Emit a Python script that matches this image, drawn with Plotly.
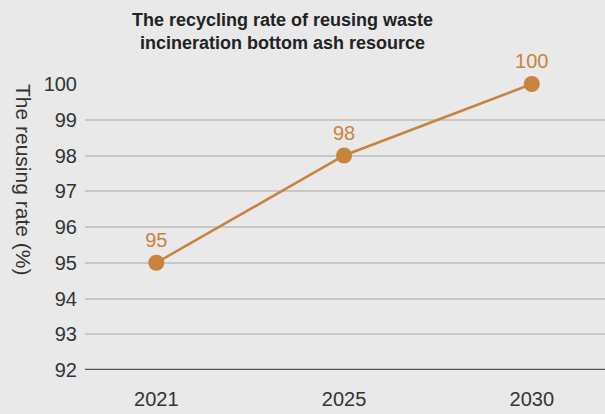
import plotly.graph_objects as go

years = ["2021", "2025", "2030"]
rates = [95, 98, 100]
y_ticks = [92, 93, 94, 95, 96, 97, 98, 99, 100]

orange = "#c8843c"
font_family = "Liberation Sans, Arial, sans-serif"

fig = go.Figure()
fig.add_trace(go.Scatter(
    x=years, y=rates, mode="lines+markers+text",
    line=dict(color=orange, width=2.5),
    marker=dict(color=orange, size=16),
    text=[str(v) for v in rates], textposition="top center",
    textfont=dict(color=orange, size=20, family=font_family),
    cliponaxis=False, hoverinfo="skip",
))

fig.update_layout(
    width=605, height=414,
    paper_bgcolor="#e9e9e9", plot_bgcolor="#e9e9e9",
    margin=dict(l=85, r=0, t=84, b=44),
    showlegend=False,
    font=dict(family=font_family, color="#333333", size=20),
    xaxis=dict(
        type="category", range=[-0.38, 2.39],
        showgrid=False, zeroline=False, showline=False,
        ticks="", ticklabelstandoff=15,
        tickfont=dict(size=20, color="#333333"),
    ),
    yaxis=dict(
        range=[92, 100], tickvals=y_ticks, ticktext=[str(v) for v in y_ticks],
        showgrid=True, gridcolor="#c8c8c8", gridwidth=1.5,
        zeroline=False, showline=False, ticks="", ticklabelstandoff=7,
        tickfont=dict(size=20, color="#333333"),
    ),
)

fig.add_shape(type="line", xref="paper", yref="y", x0=0, x1=1, y0=92, y1=92,
              line=dict(color="#555555", width=2.5))

fig.add_annotation(
    text="<b>The recycling rate of reusing waste<br>incineration bottom ash resource</b>",
    xref="paper", yref="paper", x=(282-85)/520, y=(370-32)/286,
    xanchor="center", yanchor="middle", showarrow=False,
    font=dict(size=18, color="#222222", family=font_family),
)

fig.add_annotation(
    text="The reusing rate (%)", textangle=90,
    xref="paper", yref="paper", x=-(85-24)/520, y=(370-179)/286,
    xanchor="center", yanchor="middle", showarrow=False,
    font=dict(size=21, color="#333333", family=font_family),
)

fig.write_html("out.html", config={"displayModeBar": False},
               post_script="document.body.style.margin='0';")
